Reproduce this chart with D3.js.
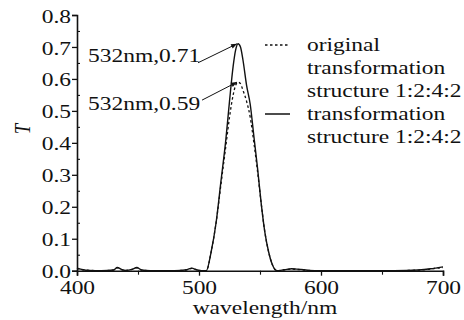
<!DOCTYPE html>
<html>
<head>
<meta charset="utf-8">
<script src="https://cdn.jsdelivr.net/npm/d3@7"></script>
<style>
  html, body { margin: 0; padding: 0; background: #fff; }
  svg { display: block; }
  text { font-family: "Liberation Serif", "Times New Roman", serif; fill: #111; }
</style>
</head>
<body>
<svg id="chart" width="464" height="320"></svg>
<script>
// ---- data ----
const wavelength = [400,405,410,420,430,433,437,440,445,449,453,460,470,480,490,494,498,502,506,510,514,518,522,525,528,530,532,534,536,539,542,545,548,551,554,557,560,564,570,576,580,586,590,600,620,640,660,680,690,695,700];
const transformed = [0.008,0.003,0.001,0.0,0.002,0.010,0.003,0.001,0.004,0.010,0.002,0.0,0.0,0.0,0.003,0.008,0.003,0.0,0.0,0.06,0.15,0.28,0.41,0.53,0.64,0.69,0.71,0.70,0.66,0.58,0.52,0.42,0.32,0.21,0.12,0.06,0.02,0.0,0.003,0.006,0.005,0.003,0.001,0.0,0.0,0.0,0.0,0.002,0.006,0.009,0.012];
const original = [0.007,0.003,0.001,0.0,0.002,0.009,0.003,0.001,0.004,0.009,0.002,0.0,0.0,0.0,0.003,0.007,0.003,0.0,0.0,0.06,0.15,0.27,0.39,0.48,0.55,0.58,0.59,0.585,0.565,0.53,0.48,0.40,0.31,0.21,0.12,0.06,0.02,0.0,0.003,0.005,0.004,0.002,0.001,0.0,0.0,0.0,0.0,0.002,0.005,0.008,0.010];
const xTicks = [400,500,600,700];
const xMinorTicks = [450,550,650];
const yTicks = [0.0,0.1,0.2,0.3,0.4,0.5,0.6,0.7,0.8];
const yMinorTicks = [0.05,0.15,0.25,0.35,0.45,0.55,0.65,0.75];
const legendLabels = [["original","transformation","structure 1:2:4:2"],["transformation","structure 1:2:4:2"]];
const annotations = [{w:532,t:0.71,label:"532nm,0.71"},{w:532,t:0.59,label:"532nm,0.59"}];
const xTitle = "wavelength/nm";
const yTitle = "T";

// ---- layout ----
const SX = 1.27, FS = 18.5;
const svg = d3.select("#chart");
const x = d3.scaleLinear().domain([400,700]).range([77,443]);
const y = d3.scaleLinear().domain([0,0.8]).range([270.7,15]);

function stretchedText(parent, px, py, str, anchor) {
  const g = parent.append("g").attr("transform", `translate(${px},${py}) scale(${SX},1)`);
  return g.append("text").attr("text-anchor", anchor || "start").attr("font-size", FS).text(str);
}

// y axis
const yAxis = svg.append("g").attr("transform", `translate(${x(400)},0)`)
  .call(d3.axisLeft(y).tickValues(yTicks).tickFormat(d3.format(".1f")).tickSize(5).tickPadding(6));
yAxis.select(".domain").attr("stroke", "#111").attr("stroke-width", 1.6);
yAxis.selectAll(".tick line").attr("stroke", "#111").attr("stroke-width", 1.3);
yAxis.selectAll(".tick text")
  .attr("font-size", FS).attr("font-family", "Liberation Serif")
  .attr("fill", "#111")
  .attr("x", -6 / SX).attr("dy", "0.38em")
  .attr("transform", `scale(${SX},1)`);
const yMinor = svg.append("g").attr("transform", `translate(${x(400)},0)`)
  .call(d3.axisRight(y).tickValues(yMinorTicks).tickSize(3).tickFormat(""));
yMinor.select(".domain").remove();
yMinor.selectAll(".tick line").attr("stroke", "#111").attr("stroke-width", 1.1);

// x axis
const xAxis = svg.append("g").attr("transform", `translate(0,${y(0)})`)
  .call(d3.axisBottom(x).tickValues(xTicks).tickFormat(d3.format("d")).tickSize(5).tickPadding(6));
xAxis.select(".domain").attr("stroke", "#111").attr("stroke-width", 1.6);
xAxis.selectAll(".tick line").attr("stroke", "#111").attr("stroke-width", 1.3);
xAxis.selectAll(".tick text")
  .attr("font-size", FS).attr("font-family", "Liberation Serif").attr("fill", "#111")
  .attr("transform", `scale(${SX},1)`).attr("dy", "0.68em");
const xMinor = svg.append("g").attr("transform", `translate(0,${y(0)})`)
  .call(d3.axisBottom(x).tickValues(xMinorTicks).tickSize(4).tickFormat(""));
xMinor.select(".domain").remove();
xMinor.selectAll(".tick line").attr("stroke", "#111").attr("stroke-width", 1.1);

// axis titles
stretchedText(svg, 265, 314, xTitle, "middle");
svg.append("text")
  .attr("transform", `translate(30,129) rotate(-90) scale(1,${SX})`)
  .attr("text-anchor", "middle").attr("font-size", FS).attr("font-style", "italic")
  .text(yTitle);

// curves
const line = d3.line().x((d,i) => x(wavelength[i])).y(d => y(d)).curve(d3.curveMonotoneX);
svg.append("path").datum(original).attr("d", line)
  .attr("fill", "none").attr("stroke", "#111").attr("stroke-width", 1.3).attr("stroke-dasharray", "2.5,2.5");
svg.append("path").datum(transformed).attr("d", line)
  .attr("fill", "none").attr("stroke", "#111").attr("stroke-width", 1.4);

// annotations
svg.append("defs").append("marker").attr("id", "arrow")
  .attr("viewBox", "0 0 10 10").attr("refX", 10).attr("refY", 5)
  .attr("markerWidth", 7).attr("markerHeight", 6).attr("orient", "auto")
  .append("path").attr("d", "M0,1 L10,5 L0,9 Z").attr("fill", "#111");
const annOffsets = [{tx:-150, ty:18, lx:-40, ly:19},{tx:-150, ty:28, lx:-36, ly:18}];
annotations.forEach((a, i) => {
  const px = x(a.w), py = y(a.t), o = annOffsets[i];
  stretchedText(svg, px + o.tx, py + o.ty, a.label, "start");
  svg.append("line")
    .attr("x1", px + o.lx).attr("y1", py + o.ly).attr("x2", px - 1).attr("y2", py)
    .attr("stroke", "#111").attr("stroke-width", 1).attr("marker-end", "url(#arrow)");
});

// legend
const legendX = 265, lineLen = 25, textX = 307, lineGap = 23, firstBase = 51;
let row = 0;
legendLabels.forEach((lines, si) => {
  const sampleY = firstBase + row * lineGap - 6;
  svg.append("line").attr("x1", legendX).attr("x2", legendX + lineLen)
    .attr("y1", sampleY).attr("y2", sampleY)
    .attr("stroke", "#111").attr("stroke-width", si === 0 ? 1.3 : 1.5)
    .attr("stroke-dasharray", si === 0 ? "2.5,2.5" : null);
  lines.forEach(l => {
    stretchedText(svg, textX, firstBase + row * lineGap, l, "start");
    row++;
  });
});
</script>
</body>
</html>
